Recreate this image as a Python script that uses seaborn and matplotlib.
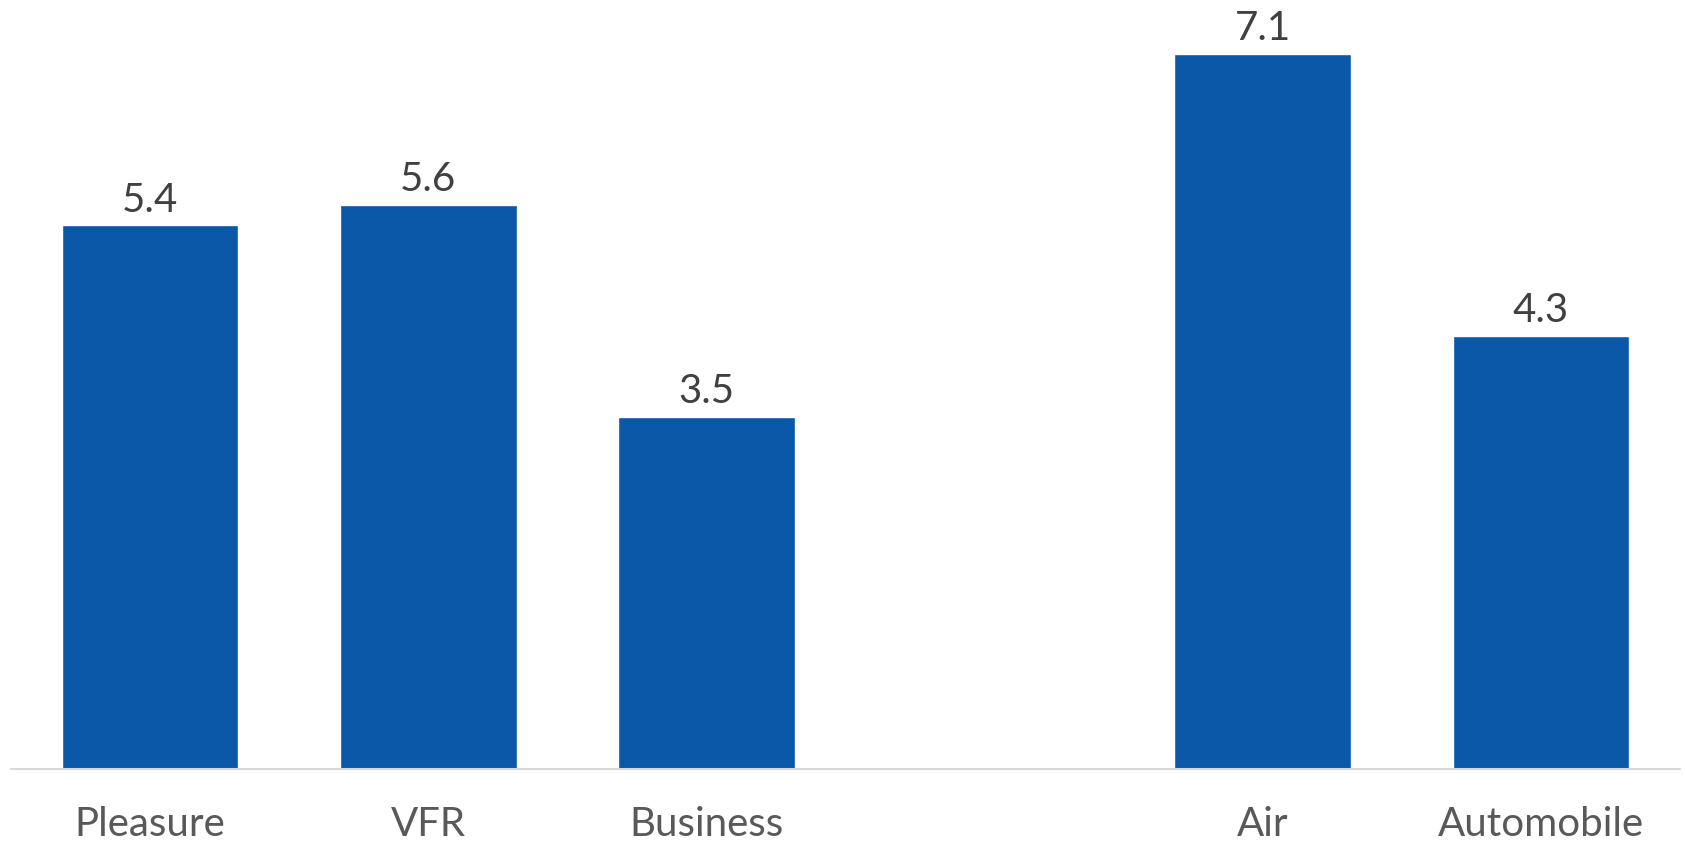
import matplotlib
matplotlib.use("Agg")
import matplotlib.pyplot as plt
import seaborn as sns
import pandas as pd

# Average trip length by purpose and by mode of travel
purposes = ["Pleasure", "VFR", "Business"]
purpose_values = [5.4, 5.6, 3.5]
modes = ["Air", "Automobile"]
mode_values = [7.1, 4.3]

gap = " "  # blank slot separating the two groups
order = purposes + [gap] + modes

df = pd.DataFrame({
    "category": purposes + modes,
    "value": purpose_values + mode_values,
})

sns.set_theme(style="white")
plt.rcParams["font.family"] = ["Lato", "DejaVu Sans"]

fig = plt.figure(figsize=(16.85, 8.44), dpi=100)
ax = fig.add_axes([11 / 1685, 75 / 844, 1669 / 1685, 769 / 844])

sns.barplot(data=df, x="category", y="value", order=order,
            color="#0B57A8", saturation=1, width=0.635, ax=ax)

ax.set_xlim(-0.5, 5.5)
ax.set_ylim(0, 7.64)

for cont in ax.containers:
    ax.bar_label(cont, fmt="%.1f", padding=5, fontsize=29, color="#404040")

ax.set_xlabel("")
ax.set_ylabel("")
ax.set_yticks([])
ax.tick_params(axis="x", length=0, pad=27, labelsize=29, labelcolor="#595959")
for side in ["top", "left", "right"]:
    ax.spines[side].set_visible(False)
ax.spines["bottom"].set_color("#D9D9D9")
ax.spines["bottom"].set_linewidth(1.5)

fig.savefig("out.png", dpi=100, facecolor="white")
